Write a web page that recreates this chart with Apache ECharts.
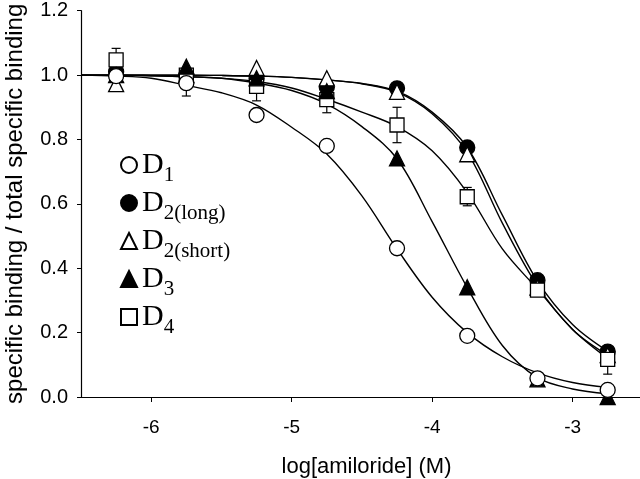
<!DOCTYPE html>
<html>
<head>
<meta charset="utf-8">
<script src="https://cdn.jsdelivr.net/npm/echarts@6/dist/echarts.min.js"></script>
<style>
html,body{margin:0;padding:0;background:#fff;}
#chart{width:640px;height:479px;}
</style>
</head>
<body>
<div id="chart"></div>
<script>
// ---- data ----
const xVals = [-6.25, -5.75, -5.25, -4.75, -4.25, -3.75, -3.25, -2.75];
const d1      = [0.997, 0.975, 0.876, 0.780, 0.462, 0.190, 0.058, 0.022];
const d2long  = [1.010, 1.000, 0.990, 0.962, 0.959, 0.775, 0.363, 0.141];
const d2short = [0.972, 1.000, 1.022, 0.990, 0.948, 0.754, 0.340, 0.130];
const d3      = [1.000, 1.026, 0.990, 0.950, 0.741, 0.341, 0.055, 0.000];
const d4      = [1.047, 1.000, 0.965, 0.924, 0.845, 0.622, 0.332, 0.117];

// fitted curves
const fitX       = [-6.5, -6.25, -6.0, -5.75, -5.5, -5.25, -5.0, -4.75, -4.5, -4.25, -4.0, -3.75, -3.5, -3.25, -3.0, -2.75];
const fitD1      = [1.0, 0.997, 0.99, 0.968, 0.945, 0.907, 0.838, 0.755, 0.625, 0.46, 0.31, 0.20, 0.125, 0.075, 0.045, 0.03];
const fitD2long  = [1.0, 1.0, 1.0, 1.0, 0.999, 0.997, 0.993, 0.985, 0.974, 0.95, 0.885, 0.775, 0.565, 0.36, 0.225, 0.142];
const fitD2short = [1.0, 1.0, 1.0, 1.0, 0.999, 0.997, 0.993, 0.985, 0.973, 0.947, 0.88, 0.76, 0.54, 0.345, 0.21, 0.13];
const fitD3      = [1.0, 1.0, 0.998, 0.995, 0.99, 0.975, 0.952, 0.91, 0.84, 0.74, 0.545, 0.34, 0.16, 0.06, 0.025, 0.01];
const fitD4      = [1.0, 1.0, 0.998, 0.995, 0.99, 0.98, 0.96, 0.925, 0.885, 0.84, 0.765, 0.635, 0.46, 0.335, 0.21, 0.12];

// visible error bars
const errX    = [-6.25, -5.75, -5.25, -4.75, -4.25, -4.25, -3.75, -2.75];
const errLow  = [1.047, 0.935, 0.920, 0.883, 0.790, 0.925, 0.594, 0.071];
const errHigh = [1.083, 0.975, 0.965, 0.924, 0.900, 0.948, 0.651, 0.117];

const xTicks = [-6, -5, -4, -3];
const seriesNames = ['D1', 'D2(long)', 'D2(short)', 'D3', 'D4'];

// ---- chart ----
const chart = echarts.init(document.getElementById('chart'), null, {renderer: 'canvas'});
const sans = '"Liberation Sans", Arial, Helvetica, sans-serif';
const serif = '"Liberation Serif", "Times New Roman", serif';

const pair = (xs, ys) => xs.map((x, i) => [x, ys[i]]);
const fitLine = (name, ys) => ({
  name: name + ' fit', type: 'line', data: pair(fitX, ys), smooth: 0.35,
  symbol: 'none', silent: true, z: 2,
  lineStyle: {color: '#000', width: 1.4}
});
const marker = (name, ys, symbol, size, filled, z) => ({
  name: name, type: 'scatter', data: pair(xVals, ys), symbol: symbol, symbolSize: size, z: z,
  itemStyle: {color: filled ? '#000' : '#fff', borderColor: '#000', borderWidth: 1.3, opacity: 1}
});

const option = {
  animation: false,
  backgroundColor: '#fff',
  grid: {left: 81, right: 0, top: 10.7, bottom: 82, containLabel: false, outerBoundsMode: 'none'},
  xAxis: {
    type: 'value', min: -6.5, max: -2.52,
    name: 'log[amiloride] (M)', nameLocation: 'middle', nameGap: 59,
    nameTextStyle: {fontFamily: sans, fontSize: 22, color: '#000', padding: [0, 0, 0, 12]},
    axisLine: {show: true, onZero: false, lineStyle: {color: '#000', width: 1.2}},
    axisTick: {show: true, length: 5, customValues: xTicks, lineStyle: {color: '#000'}},
    axisLabel: {customValues: xTicks, margin: 21, fontFamily: sans, fontSize: 19, color: '#000',
      formatter: v => String(v)},
    splitLine: {show: false}
  },
  yAxis: {
    type: 'value', min: 0, max: 1.2, interval: 0.2,
    name: 'specific binding / total specific binding', nameLocation: 'middle', nameGap: 54,
    nameTextStyle: {fontFamily: sans, fontSize: 24, color: '#000'},
    axisLine: {show: true, lineStyle: {color: '#000', width: 1.2}},
    axisTick: {show: true, length: 4, lineStyle: {color: '#000'}},
    axisLabel: {margin: 13, fontFamily: sans, fontSize: 20, color: '#000',
      formatter: v => v.toFixed(1)},
    splitLine: {show: false}
  },
  legend: {
    orient: 'vertical', left: 120, top: 150, padding: 0, itemWidth: 16, itemHeight: 16, itemGap: 2,
    data: seriesNames,
    formatter: n => '{d|D}{s|' + n.slice(1) + '}',
    textStyle: {
      color: '#000',
      rich: {
        d: {fontFamily: serif, fontSize: 30, lineHeight: 42, color: '#000'},
        s: {fontFamily: serif, fontSize: 21, lineHeight: 21, verticalAlign: 'bottom', color: '#000'}
      }
    }
  },
  series: [
    fitLine('D1', fitD1),
    fitLine('D2(long)', fitD2long),
    fitLine('D2(short)', fitD2short),
    fitLine('D3', fitD3),
    fitLine('D4', fitD4),
    {
      name: 'error', type: 'custom', silent: true, z: 3,
      data: errX.map((x, i) => [x, errLow[i], errHigh[i]]),
      encode: {x: 0, y: [1, 2]},
      renderItem: (params, api) => {
        const x = api.value(0);
        const a = api.coord([x, api.value(1)]);
        const b = api.coord([x, api.value(2)]);
        const w = 4.5;
        const st = {stroke: '#000', lineWidth: 1.2};
        return {type: 'group', children: [
          {type: 'line', shape: {x1: a[0], y1: a[1], x2: b[0], y2: b[1]}, style: st},
          {type: 'line', shape: {x1: a[0] - w, y1: a[1], x2: a[0] + w, y2: a[1]}, style: st},
          {type: 'line', shape: {x1: b[0] - w, y1: b[1], x2: b[0] + w, y2: b[1]}, style: st}
        ]};
      }
    },
    marker('D2(long)', d2long, 'circle', 15, true, 4),
    marker('D2(short)', d2short, 'triangle', 15, false, 5),
    marker('D4', d4, 'rect', 14, false, 6),
    marker('D3', d3, 'triangle', 15, true, 7),
    marker('D1', d1, 'circle', 15, false, 8)
  ]
};
chart.setOption(option);
</script>
</body>
</html>
